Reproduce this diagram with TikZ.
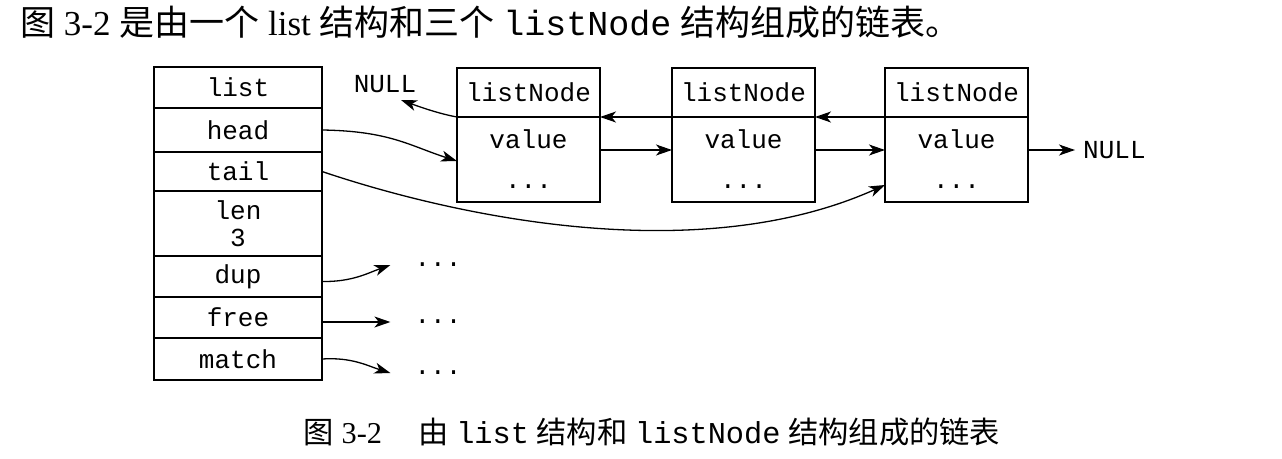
\documentclass[tikz,border=0pt]{standalone}
\usepackage{fontspec}
\setmainfont{Liberation Serif}
\setmonofont{Liberation Mono}
\newfontfamily\cjk{Noto Sans CJK SC}
\usetikzlibrary{arrows.meta}
\begin{document}
\begin{tikzpicture}[x=1pt,y=-1pt,
  row/.style={draw, line width=1.7pt, outer sep=0pt, minimum width=168pt, anchor=north west, inner sep=0pt, align=center, font=\fontsize{26}{27}\selectfont\ttfamily},
  hdr/.style={draw, line width=1.7pt, outer sep=0pt, minimum width=143pt, minimum height=49pt, anchor=north west, inner sep=0pt, font=\fontsize{26}{27}\selectfont\ttfamily},
  bodybox/.style={draw, line width=1.7pt, outer sep=0pt, minimum width=143pt, minimum height=85pt, anchor=north west, inner sep=0pt, align=center, font=\fontsize{26}{40}\selectfont\ttfamily},
  txt/.style={inner sep=0pt, font=\fontsize{26}{27}\selectfont\ttfamily},
  arr/.style={-{Stealth[length=16pt,width=11pt,inset=4.5pt]}, line width=1.3pt}]
\useasboundingbox (0,0) rectangle (1282,458);
% title
\node[anchor=west, inner sep=0pt, font=\fontsize{35}{38}\selectfont] (title) at (20,22)
  {{\cjk 图} 3-2 {\cjk 是由一个} list {\cjk 结构和三个} \texttt{listNode} {\cjk 结构组成的链表。}};
% list struct
\node[row, minimum height=41pt] (lst) at (154,67) {list};
\node[row, minimum height=44pt] (head) at (lst.south west) {head};
\node[row, minimum height=39pt] (tail) at (head.south west) {tail};
\node[row, minimum height=65pt] (len) at (tail.south west) {len\\3};
\node[row, minimum height=41pt] (dup) at (len.south west) {dup};
\node[row, minimum height=41pt] (free) at (dup.south west) {free};
\node[row, minimum height=42pt] (match) at (free.south west) {match};
% listNodes
\node[hdr] (n1h) at (457,68) {listNode};
\node[bodybox] (n1b) at (n1h.south west) {value\\...};
\node[hdr] (n2h) at (672,68) {listNode};
\node[bodybox] (n2b) at (n2h.south west) {value\\...};
\node[hdr] (n3h) at (885,68) {listNode};
\node[bodybox] (n3b) at (n3h.south west) {value\\...};
% NULLs and dots
\node[txt] (nullL) at (385,84) {NULL};
\node[txt, anchor=west, inner xsep=0pt] (nullR) at (1083,150) {NULL};
\node[txt] (d1) at (438,265) {...};
\node[txt] (d2) at (438,322) {...};
\node[txt] (d3) at (438,373) {...};
\coordinate (ya) at (0,150);
\coordinate (yb) at (0,161);
\coordinate (yc) at (0,185);
\coordinate (nl) at (401,100);
% arrows
\draw[arr] (n1b.east |- ya) -- (n2b.west |- ya);
\draw[arr] (n2b.east |- ya) -- (n3b.west |- ya);
\draw[arr] (n3b.east |- ya) -- ([xshift=-8pt]nullR.west);
\draw[arr] (n2h.south west) -- (n1h.south east);
\draw[arr] (n3h.south west) -- (n2h.south east);
\draw[arr] (n1h.south west) .. controls (440,114) and (420,107) .. (nl);
\draw[arr] (head.east) .. controls (390,131) and (410,146) .. (n1b.west |- yb);
\draw[arr] (tail.east) .. controls (460,218) and (700,268) .. (n3b.west |- yc);
\draw[arr] ([yshift=-5pt]dup.east) .. controls (352,282) and (368,273) .. ([xshift=-24pt]d1.west);
\draw[arr] (free.east |- d2.west) -- ([xshift=-24pt]d2.west);
\draw[arr] (match.east) .. controls (352,357) and (368,366) .. ([xshift=-24pt]d3.west);
% caption
\node[inner sep=0pt, font=\fontsize{30.3}{33}\selectfont] (cap) at (652,432)
  {{\cjk 图} 3-2\hspace{1.2em}{\cjk 由} \texttt{list} {\cjk 结构和} \texttt{listNode} {\cjk 结构组成的链表}};
\end{tikzpicture}
\end{document}
